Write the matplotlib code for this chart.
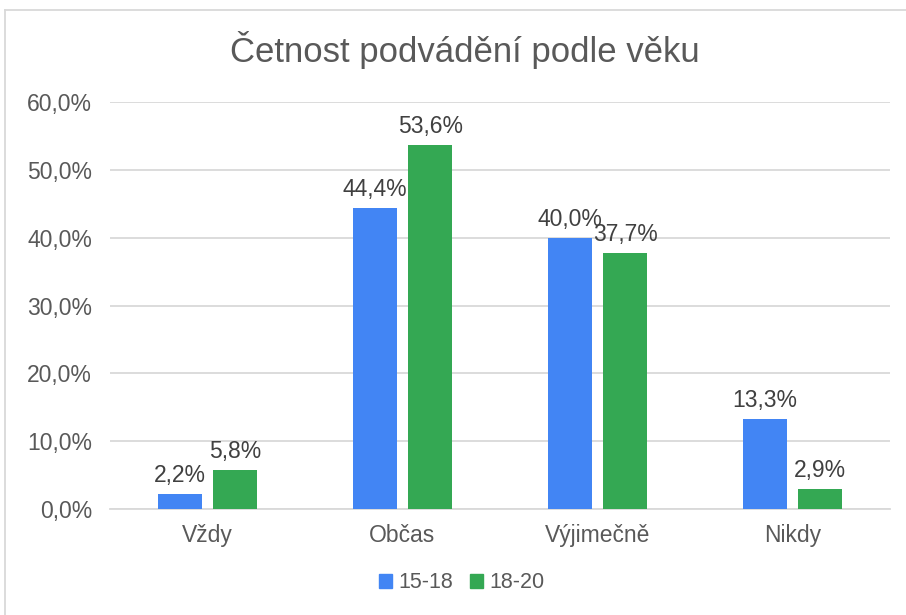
import matplotlib
matplotlib.use("Agg")
import matplotlib.pyplot as plt
import numpy as np
from matplotlib.patches import Rectangle
from matplotlib.lines import Line2D

plt.rcParams['font.family'] = ['Liberation Sans', 'DejaVu Sans']

categories = ["Vždy", "Občas", "Výjimečně", "Nikdy"]
series_names = ["15-18", "18-20"]
values_1518 = [2.2, 44.4, 40.0, 13.3]
values_1820 = [5.8, 53.6, 37.7, 2.9]
yticks = [0, 10, 20, 30, 40, 50, 60]

colors = ["#4285F4", "#34A853"]
text_color = "#595959"
grid_color = "#d9d9d9"

fig = plt.figure(figsize=(9.06, 6.15), dpi=100)
ax = fig.add_axes([110/906, 1-509/615, 780/906, 407/615])

x = np.arange(len(categories))
w = 0.225
gap = 0.06
off = (w + gap) / 2
for i, (vals, name) in enumerate(zip([values_1518, values_1820], series_names)):
    pos = x + (-off if i == 0 else off)
    bars = ax.bar(pos, vals, width=w, color=colors[i], label=name, zorder=3)
    for b, v in zip(bars, vals):
        ax.annotate(f"{v:.1f}%".replace(".", ","), (b.get_x() + b.get_width()/2, v),
                    xytext=(0, 5), textcoords="offset points", ha="center", va="bottom",
                    fontsize=16.5, color="#404040")

ax.set_xlim(-0.5, 3.5)
ax.set_ylim(0, 60)
ax.set_yticks(yticks)
ax.set_yticklabels([f"{t:.1f}%".replace(".", ",") for t in yticks])
ax.set_xticks(x)
ax.set_xticklabels(categories)
ax.tick_params(axis='both', length=0, labelsize=16.5, colors=text_color)
ax.tick_params(axis='y', pad=13)
ax.tick_params(axis='x', pad=11)
ax.grid(axis='y', color=grid_color, linewidth=1.3, zorder=0)
for s in ["top", "right", "left"]:
    ax.spines[s].set_visible(False)
ax.spines["bottom"].set_color(grid_color)
ax.spines["bottom"].set_linewidth(1.3)

fig.text(465/906, 1-50/615, "Četnost podvádění podle věku", ha="center", va="center",
         fontsize=25, color=text_color)

handles = [Rectangle((0, 0), 1, 1, color=c) for c in colors]
fig.legend(handles, series_names, loc="center", bbox_to_anchor=(462/906, 1-583/615),
           ncol=2, frameon=False, fontsize=15.5, handlelength=0.6, handleheight=0.6,
           handletextpad=0.3, columnspacing=0.8, labelcolor=text_color)

# chart border (cropped at right/bottom)
fig.add_artist(Line2D([4.5/906, 4.5/906], [0, 1-10/615], color=grid_color, linewidth=1.3, transform=fig.transFigure))
fig.add_artist(Line2D([4.5/906, 1], [1-10/615, 1-10/615], color=grid_color, linewidth=1.3, transform=fig.transFigure))

fig.savefig("out.png", dpi=100)
